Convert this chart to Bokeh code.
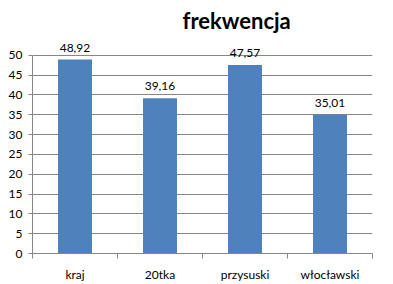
from bokeh.plotting import figure
from bokeh.models import ColumnDataSource, LabelSet, FixedTicker, Range1d, Title
from bokeh.core.properties import value
from bokeh.embed import file_html
from bokeh.resources import INLINE

categories = ["kraj", "20tka", "przysuski", "włocławski"]
values = [48.92, 39.16, 47.57, 35.01]
y_ticks = [0, 5, 10, 15, 20, 25, 30, 35, 40, 45, 50]
title_text = "frekwencja"

xs = [i + 0.5 for i in range(len(categories))]
labels = [f"{v:.2f}".replace(".", ",") for v in values]
src = ColumnDataSource(dict(x=xs, top=values, label=labels))

FONT = "Lato"
GRID = "#868686"

p = figure(width=393, height=284, output_backend="svg", toolbar_location=None,
           x_range=Range1d(0, len(categories)), y_range=Range1d(0, 55),
           min_border_left=32, min_border_right=21, min_border_top=35, min_border_bottom=31)
p.title = None
p.add_layout(Title(text=title_text, align="left", offset=150, standoff=3, text_font=FONT,
                   text_font_size="22px", text_font_style="bold", text_color="#000000"), "above")

p.vbar(x="x", top="top", width=0.4, source=src, fill_color="#4F81BD", line_color=None)

p.add_layout(LabelSet(x="x", y="top", text="label", source=src, text_align="center",
                      text_baseline="alphabetic", y_offset=8, text_font=value(FONT),
                      text_font_size=value("12px"), text_color="#000000"))

p.outline_line_color = None
p.xgrid.grid_line_color = None
p.ygrid.grid_line_color = GRID
p.ygrid.ticker = FixedTicker(ticks=y_ticks)

p.yaxis.ticker = FixedTicker(ticks=y_ticks)
p.yaxis.bounds = (0, 50)
p.yaxis.axis_line_color = GRID
p.yaxis.major_tick_line_color = GRID
p.yaxis.major_tick_out = 4
p.yaxis.major_tick_in = 0
p.yaxis.minor_tick_line_color = None
p.yaxis.major_label_text_font = FONT
p.yaxis.major_label_text_font_size = "12px"
p.yaxis.major_label_text_color = "#000000"
p.yaxis.major_label_standoff = 6

p.xaxis.ticker = FixedTicker(ticks=xs, minor_ticks=list(range(len(categories) + 1)))
p.xaxis.major_label_overrides = {x: c for x, c in zip(xs, categories)}
p.xaxis.axis_line_color = GRID
p.xaxis.major_tick_line_color = None
p.xaxis.minor_tick_line_color = GRID
p.xaxis.minor_tick_out = 5
p.xaxis.minor_tick_in = 0
p.xaxis.major_label_text_font = FONT
p.xaxis.major_label_text_font_size = "12px"
p.xaxis.major_label_text_color = "#000000"
p.xaxis.major_label_standoff = 7

open("out.html", "w").write(file_html(p, INLINE))
